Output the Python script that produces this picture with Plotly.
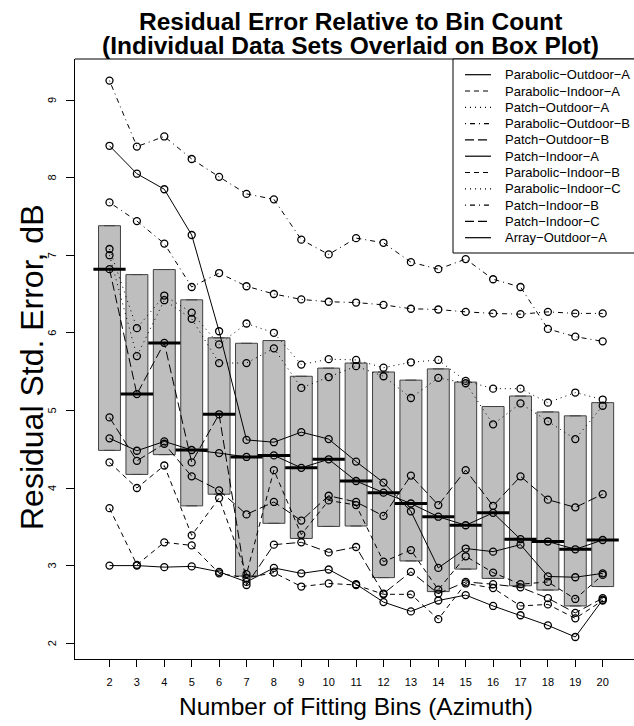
import plotly.graph_objects as go

# ---------------- data ----------------
bins = [2, 3, 4, 5, 6, 7, 8, 9, 10, 11, 12, 13, 14, 15, 16, 17, 18, 19, 20]

series_names = [
    "Parabolic\u2212Outdoor\u2212A", "Parabolic\u2212Indoor\u2212A", "Patch\u2212Outdoor\u2212A",
    "Parabolic\u2212Outdoor\u2212B", "Patch\u2212Outdoor\u2212B", "Patch\u2212Indoor\u2212A",
    "Parabolic\u2212Indoor\u2212B", "Parabolic\u2212Indoor\u2212C", "Patch\u2212Indoor\u2212B",
    "Patch\u2212Indoor\u2212C", "Array\u2212Outdoor\u2212A",
]

parabolic_outdoor_a = [3.00, 3.00, 2.98, 2.99, 2.92, 2.79, 2.97, 2.90, 2.95, 2.76, 2.53, 2.41, 2.55, 2.62, 2.48, 2.36, 2.23, 2.08, 2.56]
parabolic_indoor_a = [4.33, 4.00, 4.29, 3.39, 3.87, 2.89, 4.23, 3.40, 3.84, 3.78, 3.05, 3.20, 2.69, 3.12, 2.91, 2.76, 2.79, 2.57, 2.88]
patch_outdoor_a = [7.08, 6.06, 6.48, 6.26, 5.85, 6.12, 6.00, 5.59, 5.66, 5.65, 5.55, 5.62, 5.65, 5.38, 5.28, 5.28, 5.10, 5.23, 5.14]
parabolic_outdoor_b = [9.25, 8.40, 8.53, 8.24, 8.01, 7.79, 7.72, 7.20, 7.01, 7.22, 7.16, 6.91, 6.82, 6.95, 6.69, 6.59, 6.05, 5.95, 5.89]
patch_outdoor_b = [6.82, 5.21, 5.87, 4.33, 4.95, 2.75, 3.27, 3.30, 3.17, 3.24, 2.64, 2.92, 2.64, 2.79, 2.76, 2.72, 2.58, 2.39, 2.58]
patch_indoor_a = [8.41, 8.05, 7.85, 7.26, 6.02, 4.62, 4.59, 4.72, 4.63, 4.34, 4.07, 3.70, 2.97, 3.22, 3.18, 3.27, 2.86, 2.85, 2.90]
parabolic_indoor_b = [3.74, 3.01, 3.30, 3.26, 2.90, 2.84, 2.91, 2.73, 2.77, 2.75, 2.63, 2.63, 2.31, 2.77, 2.71, 2.48, 2.50, 2.32, 2.55]
parabolic_indoor_c = [7.00, 5.70, 6.42, 6.18, 5.61, 5.61, 5.80, 5.29, 5.43, 5.57, 5.44, 5.16, 5.42, 5.35, 4.82, 5.09, 4.86, 4.63, 5.06]
patch_indoor_b = [7.68, 7.44, 7.15, 6.59, 6.77, 6.60, 6.50, 6.43, 6.40, 6.39, 6.36, 6.31, 6.30, 6.27, 6.25, 6.24, 6.27, 6.25, 6.25]
patch_indoor_c = [4.91, 4.35, 4.57, 4.15, 3.97, 3.66, 3.82, 3.58, 3.90, 3.82, 3.64, 4.16, 3.78, 4.23, 3.77, 4.15, 3.85, 3.75, 3.92]
array_outdoor_a = [4.64, 4.48, 4.60, 4.49, 4.45, 4.40, 4.42, 4.26, 4.37, 4.09, 3.94, 3.80, 3.63, 3.52, 3.68, 3.34, 3.31, 3.21, 3.33]

y_ticks = [2, 3, 4, 5, 6, 7, 8, 9]

all_series = [
    parabolic_outdoor_a, parabolic_indoor_a, patch_outdoor_a, parabolic_outdoor_b,
    patch_outdoor_b, patch_indoor_a, parabolic_indoor_b, parabolic_indoor_c,
    patch_indoor_b, patch_indoor_c, array_outdoor_a,
]

# R line types 1..5 recycled: solid, dashed, dotted, dotdash, longdash
dash_styles = ["solid", "5px,4px", "1px,4px", "1px,4px,5px,4px", "9px,4px"]


# ---------------- box statistics (Tukey five-number summary, like R) ----------------
def fivenum(vals):
    x = sorted(vals)
    n = len(x)
    n4 = ((n + 3) // 2) / 2.0
    d = [1, n4, (n + 1) / 2.0, n + 1 - n4, n]
    out = []
    for di in d:
        lo = int(di) - 1
        hi = int(-(-di // 1)) - 1
        out.append(0.5 * (x[lo] + x[hi]))
    return out


q1, med, q3 = [], [], []
for i in range(len(bins)):
    col = [s[i] for s in all_series]
    f = fivenum(col)
    q1.append(f[1])
    med.append(f[2])
    q3.append(f[3])

# ---------------- geometry helpers (pixel layout of the page) ----------------
W, H = 634, 726
L, R, T, B = 75, 0, 59, 67
PW, PH = W - L - R, H - T - B
X_UNIT = 27.4      # px per bin
Y_UNIT = 77.6      # px per dB
Y9_PX = 100.0      # pixel row of the 9 dB tick


def px(xp):
    return (xp - L) / PW


def py(yp):
    return (H - B - yp) / PH


FONT = "Liberation Sans, Arial, Helvetica, sans-serif"

fig = go.Figure()

fig.add_trace(go.Box(
    x=bins, q1=q1, median=med, q3=q3, lowerfence=q1, upperfence=q3,
    width=0.8, fillcolor="#BEBEBE", line=dict(color="#404040", width=1),
    boxpoints=False, showlegend=False, hoverinfo="skip",
))
fig.add_trace(go.Scatter(
    x=bins, y=med, mode="markers", showlegend=False, hoverinfo="skip",
    marker=dict(symbol="line-ew", size=23, color="black", line=dict(color="black", width=3)),
))

for k, (name, vals) in enumerate(zip(series_names, all_series)):
    fig.add_trace(go.Scatter(
        x=bins, y=vals, mode="lines+markers", name=name, showlegend=False,
        line=dict(color="black", width=1, dash=dash_styles[k % 5]),
        marker=dict(symbol="circle-open", size=7, color="black", line=dict(color="black", width=1.3)),
    ))

shapes = []
# top frame line
shapes.append(dict(type="line", xref="paper", yref="paper", x0=0, x1=1.1, y0=1, y1=1,
                   line=dict(color="black", width=1)))
# legend box
leg_left, leg_top, leg_bottom = 453, 59, 253
shapes.append(dict(type="rect", xref="paper", yref="paper", x0=px(leg_left), x1=px(700),
                   y0=py(leg_bottom), y1=py(leg_top), fillcolor="white",
                   line=dict(color="black", width=1)))
annotations = []
for k, name in enumerate(series_names):
    yy = 74.7 + 16.3 * k
    shapes.append(dict(type="line", xref="paper", yref="paper", x0=px(465), x1=px(491),
                       y0=py(yy), y1=py(yy), line=dict(color="black", width=1.2, dash=dash_styles[k % 5])))
    annotations.append(dict(text=name, xref="paper", yref="paper", x=px(503), y=py(yy),
                            xanchor="left", yanchor="middle", showarrow=False,
                            font=dict(family=FONT, size=13, color="black")))

# y tick labels (rotated, like R's default las=0)
for t in y_ticks:
    annotations.append(dict(text=str(t), xref="paper", yref="y", x=px(52), y=t,
                            xanchor="center", yanchor="middle", showarrow=False, textangle=-90,
                            font=dict(family=FONT, size=11, color="black")))

# titles
annotations.append(dict(text="<b>Residual Error Relative to Bin Count</b>", xref="paper", yref="paper",
                        x=px(350), y=py(21), xanchor="center", yanchor="middle", showarrow=False,
                        font=dict(family=FONT, size=24.5, color="black")))
annotations.append(dict(text="<b>(Individual Data Sets Overlaid on Box Plot)</b>", xref="paper", yref="paper",
                        x=px(350), y=py(45.5), xanchor="center", yanchor="middle", showarrow=False,
                        font=dict(family=FONT, size=24.5, color="black")))
annotations.append(dict(text="Number of Fitting Bins (Azimuth)", xref="paper", yref="paper",
                        x=px(356), y=py(706.5), xanchor="center", yanchor="middle", showarrow=False,
                        font=dict(family=FONT, size=24.5, color="black")))
annotations.append(dict(text="Residual Std. Error, dB", xref="paper", yref="paper",
                        x=px(32), y=py(368), xanchor="center", yanchor="middle", showarrow=False,
                        textangle=-90, font=dict(family=FONT, size=32, color="black")))

fig.update_layout(
    width=W, height=H, margin=dict(l=L, r=R, t=T, b=B, pad=0),
    plot_bgcolor="white", paper_bgcolor="white", showlegend=False,
    shapes=shapes, annotations=annotations,
    xaxis=dict(range=[2 - (109.5 - L) / X_UNIT, 2 + (W - 109.5) / X_UNIT], tickvals=bins,
               ticks="outside", ticklen=7, tickwidth=1, tickcolor="black",
               showline=True, linecolor="black", linewidth=1, showgrid=False, zeroline=False,
               tickfont=dict(family=FONT, size=11, color="black"), ticklabelstandoff=6),
    yaxis=dict(range=[9 - (H - B - Y9_PX) / Y_UNIT, 9 + (Y9_PX - T) / Y_UNIT], tickvals=y_ticks,
               ticks="outside", ticklen=8, tickwidth=1, tickcolor="black", showticklabels=False,
               showline=True, linecolor="black", linewidth=1, showgrid=False, zeroline=False),
)

fig.write_html("out.html", config={"displayModeBar": False},
               post_script="document.body.style.margin='0px';document.body.style.overflow='hidden';")
